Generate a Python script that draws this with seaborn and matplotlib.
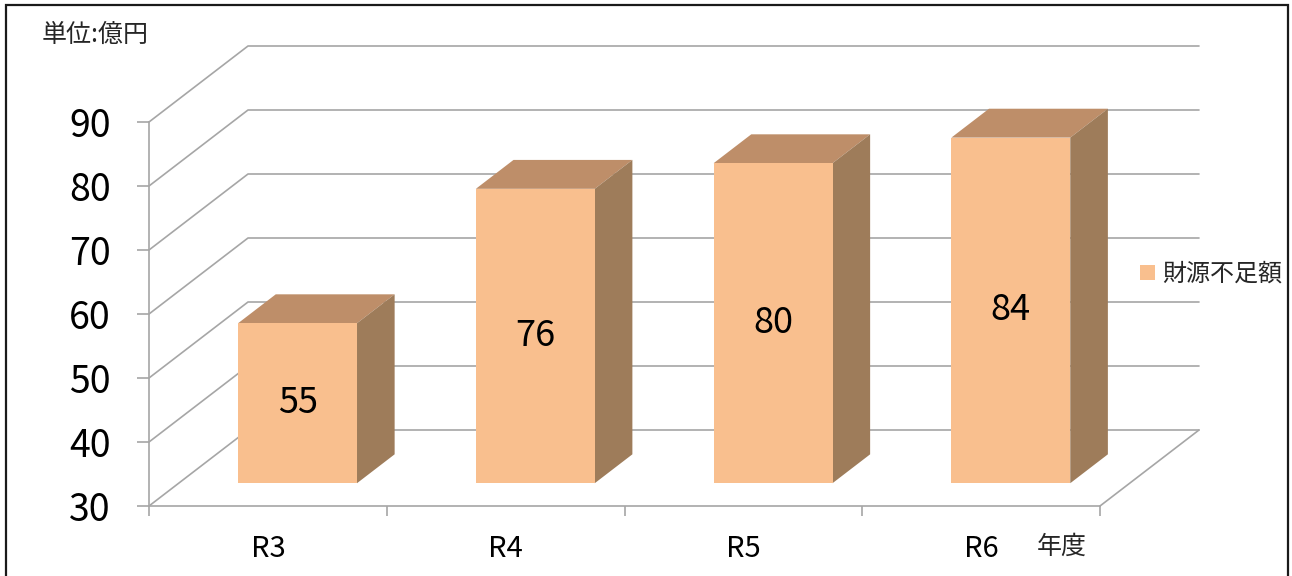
import numpy as np
import pandas as pd
import matplotlib
matplotlib.use("Agg")
import matplotlib.pyplot as plt
import seaborn as sns
from matplotlib.transforms import ScaledTranslation, IdentityTransform
from matplotlib.patches import Polygon, Rectangle, Patch
from matplotlib.lines import Line2D

# ---- data ----
years = ["R3", "R4", "R5", "R6"]
shortfall = [55, 76, 80, 84]
series_name = "財源不足額"
y_ticks = [30, 40, 50, 60, 70, 80, 90]
unit_label = "単位:億円"
x_title = "年度"

# ---- style ----
sns.set_theme(style="white")
plt.rcParams["font.family"] = ["Noto Sans CJK JP", "DejaVu Sans"]

FRONT = "#F9BF8E"
TOP = "#BE8E69"
SIDE = "#9E7C5A"
GRID = "#A6A6A6"

W, H, DPI = 1292, 576, 100
DEPTH = np.array([99.0, 76.0])    # pixel offset from the front plane to the back wall
BAR_FRONT, BAR_BACK = 0.30, 0.68  # depth span of each column

fig = plt.figure(figsize=(W / DPI, H / DPI), dpi=DPI)
ax = fig.add_axes([149 / W, 1 - 506 / H, (1100 - 149) / W, (506 - 122) / H])
ax.set_zorder(1)

df = pd.DataFrame({x_title: years, series_name: shortfall})
sns.barplot(data=df, x=x_title, y=series_name, color=FRONT, saturation=1,
            width=0.5, ax=ax, zorder=4)
ax.set_xlim(-0.5, len(years) - 0.5)
ax.set_ylim(y_ticks[0], y_ticks[-1])
ax.set_xlabel("")
ax.set_ylabel("")
ax.patch.set_alpha(0)


def proj(x, v, d):
    """Display position of data point (x, v) pushed back to depth d (0 front, 1 back)."""
    return ax.transData.transform((x, v)) + d * DEPTH


x_lo, x_hi = ax.get_xlim()
base = y_ticks[0]

# walls: gridlines on the side wall and back wall
for v in y_ticks:
    pts = np.array([proj(x_lo, v, 0), proj(x_lo, v, 1), proj(x_hi, v, 1)])
    ax.add_artist(Line2D(pts[:, 0], pts[:, 1], transform=IdentityTransform(),
                         color=GRID, lw=1.2, clip_on=False, zorder=1))
# floor right edge
pts = np.array([proj(x_hi, base, 0), proj(x_hi, base, 1)])
ax.add_artist(Line2D(pts[:, 0], pts[:, 1], transform=IdentityTransform(),
                     color=GRID, lw=1.2, clip_on=False, zorder=1))

# columns: front face from seaborn, top and side faces extruded in depth
front_shift = ax.transData + ScaledTranslation(*(BAR_FRONT * DEPTH / DPI), fig.dpi_scale_trans)
for bar in list(ax.containers[0]):
    top = bar.get_height()
    bar.set_y(base)
    bar.set_height(top - base)
    bar.set_transform(front_shift)
    bar.set_clip_on(False)
    bar.set_edgecolor("none")
    x0, x1 = bar.get_x(), bar.get_x() + bar.get_width()
    top_face = [proj(x0, top, BAR_FRONT), proj(x1, top, BAR_FRONT),
                proj(x1, top, BAR_BACK), proj(x0, top, BAR_BACK)]
    side_face = [proj(x1, top, BAR_FRONT), proj(x1, base, BAR_FRONT),
                 proj(x1, base, BAR_BACK), proj(x1, top, BAR_BACK)]
    for poly, col in ((top_face, TOP), (side_face, SIDE)):
        ax.add_artist(Polygon(poly, closed=True, transform=IdentityTransform(),
                              facecolor=col, edgecolor="none", clip_on=False, zorder=3))
    ax.text((x0 + x1) / 2, (base + top) / 2, f"{top:g}", transform=front_shift,
            ha="center", va="center", fontsize=26, color="black", zorder=6)

# axes lines and ticks
for side in ("top", "right"):
    ax.spines[side].set_visible(False)
for side in ("left", "bottom"):
    ax.spines[side].set_color(GRID)
    ax.spines[side].set_linewidth(1.2)

ax.set_yticks(y_ticks)
ax.set_yticklabels([str(t) for t in y_ticks])
ax.tick_params(axis="y", which="major", left=True, direction="out", length=8.6,
               width=1.2, color=GRID, labelsize=27, pad=19, labelcolor="black")

ax.set_xticks(np.arange(-0.5, len(years)), labels=[""] * (len(years) + 1))
ax.set_xticks(np.arange(len(years)), labels=years, minor=True)
ax.tick_params(axis="x", which="major", bottom=True, direction="out", length=7.2,
               width=1.2, color=GRID)
ax.tick_params(axis="x", which="minor", bottom=True, length=0, labelsize=21,
               pad=20, labelcolor="black")

# legend
ax.legend(handles=[Patch(facecolor=FRONT, edgecolor="none")], labels=[series_name],
          loc="center left", bbox_to_anchor=(1140 / W, 1 - 274 / H),
          bbox_transform=fig.transFigure, frameon=False, fontsize=17.3,
          handlelength=0.62, handleheight=0.62, handletextpad=0.3,
          borderpad=0, borderaxespad=0)

# annotations
fig.text(42 / W, 1 - 35 / H, unit_label, fontsize=18, ha="left", va="center")
fig.text(1037 / W, 1 - 547 / H, x_title, fontsize=18, ha="left", va="center")

# outer frame
fig.add_artist(Rectangle((6 / W, -0.05), (1288 - 6) / W, 1.05 - 5 / H,
                         transform=fig.transFigure, fill=False,
                         edgecolor="#1a1a1a", lw=1.6))

fig.savefig("out.png", dpi=DPI)
